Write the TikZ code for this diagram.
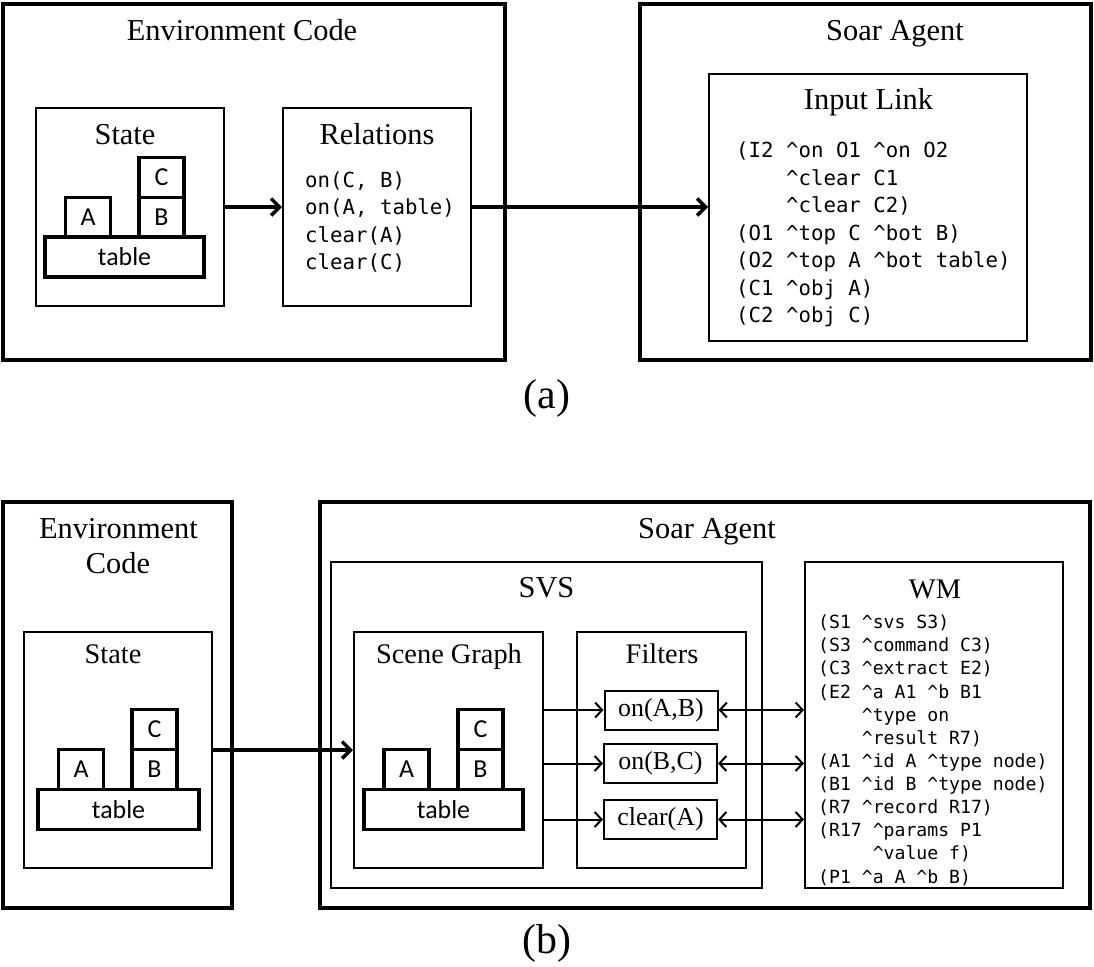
\documentclass[tikz,border=0pt]{standalone}
\usepackage{fontspec}
\setmainfont{Liberation Serif}
\newfontfamily\monofont{DejaVu Sans Mono}
\newfontfamily\blockfont{Carlito}
\usetikzlibrary{arrows.meta}
\newcommand{\caret}{\textasciicircum}
\begin{document}
\begin{tikzpicture}[x=1bp,y=-1bp,
  outerbox/.style={draw, line width=4bp, inner sep=0pt},
  innerbox/.style={draw, line width=2bp, inner sep=0pt},
  blockbox/.style={draw, line width=3.5bp, inner sep=0pt, minimum width=45bp, minimum height=40bp,
    font=\blockfont\fontsize{26}{26}\selectfont},
  title/.style={anchor=base, inner sep=0pt, font=\fontsize{30.5}{30.5}\selectfont},
  subtitle/.style={anchor=base, inner sep=0pt, font=\fontsize{28.5}{28.5}\selectfont},
  codebig/.style={anchor=base west, inner sep=0pt, align=left, font=\monofont\fontsize{20.8}{27.6}\selectfont},
  codesmall/.style={anchor=base west, inner sep=0pt, align=left, font=\monofont\fontsize{18.2}{23.2}\selectfont},
  filterbox/.style={draw, line width=2bp, inner sep=0pt, minimum width=113bp, minimum height=39bp,
    font=\fontsize{26}{26}\selectfont},
  bigarrow/.style={line width=3.5bp, -{Straight Barb[length=8.5bp,width=17bp]}},
  smallarrow/.style={line width=2bp, -{Straight Barb[length=7bp,width=15bp]}},
  dblarrow/.style={line width=2bp, {Straight Barb[length=7bp,width=15bp]}-{Straight Barb[length=7bp,width=15bp]}},
  caption/.style={font=\fontsize{42}{42}\selectfont, inner sep=0pt}
]
\fill[white] (0,0) rectangle (1094,967);
\useasboundingbox (0,0) rectangle (1094,967);

% ---------------- (a) ----------------
\node[outerbox, minimum width=502bp, minimum height=356bp] (envA) at (254,182) {};
\node[title] (envAt) at (242,40) {Environment Code};
\node[innerbox, minimum width=188bp, minimum height=198bp] (stateA) at (130,207) {};
\node[title] (stateAt) at (125,144) {State};
\node[blockbox, minimum width=159bp] (tableA) at (124.5,257) {table};
\node[blockbox] (aA) at (88,217.5) {A};
\node[blockbox] (bA) at (161.5,217.5) {B};
\node[blockbox] (cA) at (161.5,177.5) {C};
\node[innerbox, minimum width=188bp, minimum height=198bp] (relA) at (377,207) {};
\node[title] (relAt) at (377,144) {Relations};
% anchor = baseline of last line
\node[codebig] (relAc) at (305,269.8) {on(C, B)\\on(A, table)\\clear(A)\\clear(C)};

\node[outerbox, minimum width=451bp, minimum height=356bp] (soarA) at (865.5,182) {};
\node[title] (soarAt) at (895,40) {Soar Agent};
\node[innerbox, minimum width=318bp, minimum height=267bp] (inA) at (868,207) {};
\node[title] (inAt) at (868.5,109) {Input Link};
\node[codebig] (inAc) at (736,322.6) {(I2 \caret on O1 \caret on O2\\
~~~~\caret clear C1\\
~~~~\caret clear C2)\\
(O1 \caret top C \caret bot B)\\
(O2 \caret top A \caret bot table)\\
(C1 \caret obj A)\\
(C2 \caret obj C)};

\draw[bigarrow] (stateA) -- (relA);
\draw[bigarrow] (relA) -- (inA);

\node[caption] (capA) at (547,398) {(a)};

% ---------------- (b) ----------------
\node[outerbox, minimum width=229bp, minimum height=406bp] (envB) at (117.5,705) {};
\node[title] (envBt1) at (118.5,538) {Environment};
\node[title] (envBt2) at (118,573) {Code};
\node[innerbox, minimum width=188bp, minimum height=236bp] (stateB) at (118,750) {};
\node[subtitle] (stateBt) at (113,663) {State};
\node[blockbox, minimum width=161bp] (tableB) at (118.5,809.5) {table};
\node[blockbox] (aB) at (81,769.5) {A};
\node[blockbox] (bB) at (154.5,769.5) {B};
\node[blockbox] (cB) at (154.5,729.5) {C};

\node[outerbox, minimum width=770bp, minimum height=406bp] (soarB) at (705,705) {};
\node[title] (soarBt) at (707,538) {Soar Agent};
\node[innerbox, minimum width=431bp, minimum height=326bp] (svs) at (546.5,725) {};
\node[title] (svst) at (546.5,597) {SVS};
\node[innerbox, minimum width=189bp, minimum height=236bp] (scene) at (448.5,750) {};
\node[subtitle] (scenet) at (449,663) {Scene Graph};
\node[blockbox, minimum width=159bp] (tableS) at (443.5,809.5) {table};
\node[blockbox] (aS) at (406.5,769.5) {A};
\node[blockbox] (bS) at (480.5,769.5) {B};
\node[blockbox] (cS) at (480.5,729.5) {C};
\node[innerbox, minimum width=169bp, minimum height=236bp] (filters) at (661.5,750) {};
\node[subtitle] (filterst) at (662,663) {Filters};
\node[filterbox] (f1) at (661,710) {on(A,B)};
\node[filterbox] (f2) at (660.5,763.5) {on(B,C)};
\node[filterbox] (f3) at (660.5,819.5) {clear(A)};

\node[innerbox, minimum width=258bp, minimum height=326bp] (wm) at (934,725) {};
\node[subtitle] (wmt) at (935,598) {WM};
\node[codesmall] (wmc) at (818,883) {(S1 \caret svs S3)\\
(S3 \caret command C3)\\
(C3 \caret extract E2)\\
(E2 \caret a A1 \caret b B1\\
~~~~\caret type on\\
~~~~\caret result R7)\\
(A1 \caret id A \caret type node)\\
(B1 \caret id B \caret type node)\\
(R7 \caret record R17)\\
(R17 \caret params P1\\
~~~~~\caret value f)\\
(P1 \caret a A \caret b B)};

\draw[bigarrow] (stateB) -- (scene);
\draw[smallarrow] (scene.east |- f1) -- (f1);
\draw[smallarrow] (scene.east |- f2) -- (f2);
\draw[smallarrow] (scene.east |- f3) -- (f3);
\draw[dblarrow] (f1) -- (wm.west |- f1);
\draw[dblarrow] (f2) -- (wm.west |- f2);
\draw[dblarrow] (f3) -- (wm.west |- f3);

\node[caption] (capB) at (547,943) {(b)};
\end{tikzpicture}
\end{document}
